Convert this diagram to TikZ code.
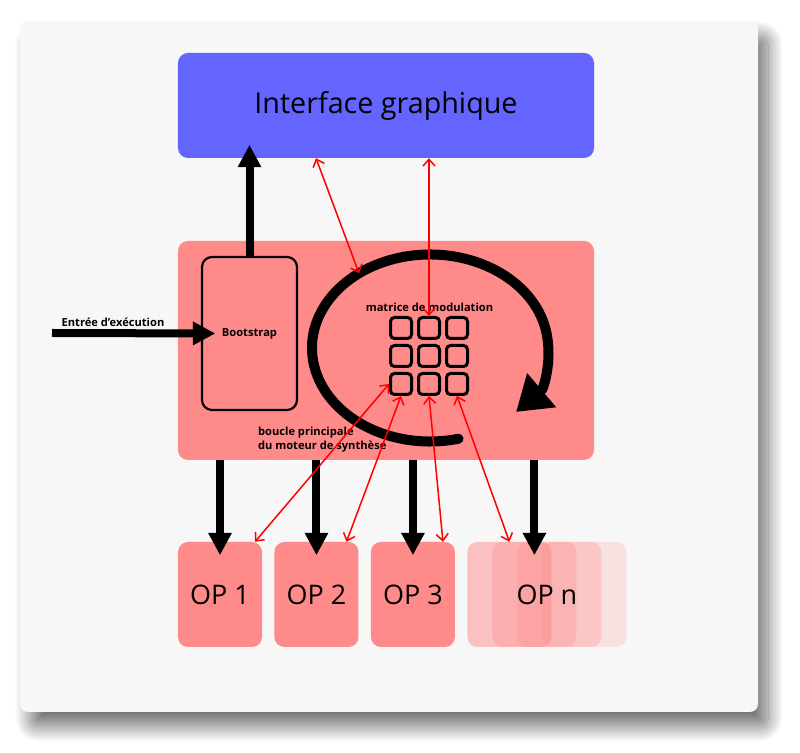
\documentclass[tikz,border=0pt]{standalone}
\usepackage{fontspec}
\setmainfont{Open Sans}
\usepackage{tikz}
\usetikzlibrary{shapes.geometric, arrows.meta, positioning, calc, shadows.blur}

\definecolor{panelgray}{HTML}{F7F7F7}
\definecolor{guiblue}{HTML}{6464FF}
\definecolor{opred}{HTML}{FF8A8A}

\begin{document}
\begin{tikzpicture}[x=0.03cm, y=0.03cm, part/.style={
        rectangle,
        rounded corners=0.3cm,
        fill=opred,
        inner sep=0pt,
        minimum width=2.52cm,
        minimum height=3.15cm,
        font=\fontsize{23}{27}\selectfont
    }, cell/.style={
        rectangle,
        rounded corners=0.12cm,
        draw=black,
        line width=0.09cm,
        minimum size=0.63cm,
        inner sep=0pt
    }, smalltext/.style={
        font=\fontsize{9.5}{11.5}\selectfont\bfseries
    }, flow/.style={
        draw=black, line width=0.24cm,
        -{Triangle[length=0.66cm, width=0.72cm, line width=0pt, fill=black]}
    }, link/.style={
        red, line width=0.045cm,
        {Straight Barb[length=0.2cm, width=0.36cm]}-{Straight Barb[length=0.2cm, width=0.36cm]}
    }]
    \useasboundingbox (0,0) rectangle (800,753);
    % panel
    \path [fill=panelgray, rounded corners=0.24cm,
        blur shadow={shadow xshift=0.3cm, shadow yshift=-0.45cm, shadow blur radius=0.45cm,
            shadow blur steps=25, shadow opacity=55}]
        (20,41) rectangle (758,732);

    \node (iface) [part, fill=guiblue, minimum width=12.48cm, font=\fontsize{24.5}{28}\selectfont] at (386,647.5) {Interface graphique};
    \node (moteur) [part, minimum width=12.48cm, minimum height=6.57cm] at (386,402.5) {};
    \node (boot) [part, draw=black, line width=0.065cm, minimum width=2.85cm, minimum height=4.59cm, smalltext] at (249.5,419.5) {Bootstrap};

    % boucle principale
    \draw [draw=black, line width=0.3cm, line cap=round,
        -{Triangle[length=1cm, width=1.35cm, line width=0pt, fill=black]}]
        (430,405) ++(-76:118 and 93.5) arc [start angle=-76, end angle=-403, x radius=118, y radius=93.5];
    \coordinate (boucle) at (359,479.7);

    \node (c11) [cell] at (401,425) {};
    \node (c12) [cell, right=0.12cm of c11] {};
    \node (c13) [cell, right=0.12cm of c12] {};
    \node (c21) [cell, below=0.12cm of c11] {};
    \node (c22) [cell, right=0.12cm of c21] {};
    \node (c23) [cell, right=0.12cm of c22] {};
    \node (c31) [cell, below=0.12cm of c21] {};
    \node (c32) [cell, right=0.12cm of c31] {};
    \node (c33) [cell, right=0.12cm of c32] {};
    \node (matrice) [smalltext] at (429.5,446) {matrice de modulation};
    \node (boucletxt) [smalltext, align=left, anchor=west] at (254,313.5) {boucle principale\\du moteur de synthèse};

    \coordinate (entree) at (52,420);
    \node (entreetxt) [smalltext] at (113,431) {Entrée d'exécution};

    \node (op1) [part] at (220,158.5) {OP 1};
    \node (op2) [part, right=0.36cm of op1] {OP 2};
    \node (op3) [part, right=0.36cm of op2] {OP 3};
    \node (opna) [part, right=0.36cm of op3, fill opacity=0.5] {};
    \node (opnb) [part, fill opacity=0.3] at ([xshift=0.75cm]opna) {};
    \node (opnc) [part, fill opacity=0.3] at ([xshift=1.5cm]opna) {};
    \node (opnd) [part, fill opacity=0.2] at ([xshift=2.25cm]opna) {};
    \node (opn) [font=\fontsize{23}{27}\selectfont] at ($(opna)!0.5!(opnd)$) {OP n};

    \draw [flow] (entree) -- ([xshift=0.42cm]boot.west);
    \draw [flow] (boot.north) -- ($(boot.north |- iface.south)+(0,13)$);
    \draw [flow] (moteur.south -| op1) -- ([yshift=-0.39cm]op1.north);
    \draw [flow] (moteur.south -| op2) -- ([yshift=-0.39cm]op2.north);
    \draw [flow] (moteur.south -| op3) -- ([yshift=-0.39cm]op3.north);
    \draw [flow] (moteur.south -| opnb) -- ([yshift=-0.39cm]opnb.north);

    \draw [link] ($(iface.south west)!0.332!(iface.south east)$) -- (boucle);
    \draw [link] (iface.south -| c12) -- (c12.north);
    \draw [link] ([xshift=1.05cm]op1.north) -- (c31.west);
    \draw [link] ([xshift=0.9cm]op2.north) -- (c31.south);
    \draw [link] ([xshift=0.9cm]op3.north) -- (c32.south);
    \draw [link] (opna.north) -- (c33.south);

\end{tikzpicture}
\end{document}
